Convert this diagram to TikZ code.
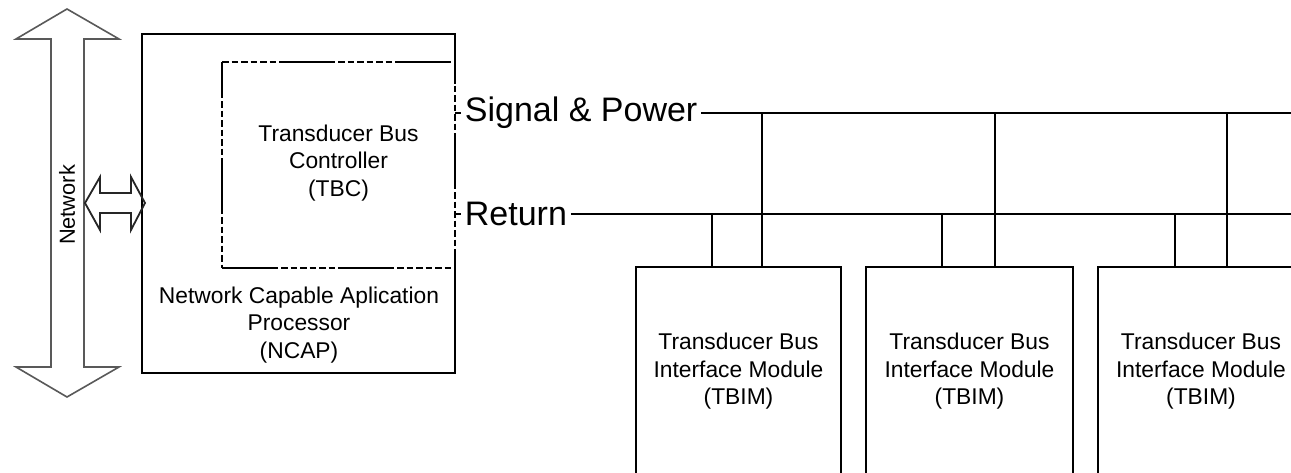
\documentclass[tikz,border=0pt]{standalone}
\usepackage{fontspec}
\setmainfont{Liberation Sans}
\begin{document}
\begin{tikzpicture}[x=1pt,y=-1pt,line width=1.8pt,
  txt/.style={inner sep=0pt,align=center,font=\fontsize{22.8}{27.5}\selectfont},
  bigtxt/.style={inner xsep=3pt,inner ysep=0pt,font=\fontsize{34}{40}\selectfont},
  area/.style={inner sep=0pt,draw=none},
  tbimbox/.style={draw=black,inner sep=0pt,align=center,minimum height=209pt,
     font=\fontsize{22.8}{27.5}\selectfont},
  tbcdash/.style={dash pattern=on 56pt off 3pt on 6.5pt off 3pt on 6.5pt off 3pt on 6.5pt off 3pt on 6.5pt off 3pt on 6.5pt off 3pt on 6.5pt off 3pt},
  netarrow/.style={draw=black!65,line width=1.6pt,line join=miter},
  busline/.style={draw=black,line width=1.8pt}]
\useasboundingbox (0,0) rectangle (1291,473);
\clip (0,0) rectangle (1291,473);
\fill[white] (0,0) rectangle (1291,473);

% Network arrow
\draw[netarrow] (67,9) -- (119,39) -- (84,39) -- (84,367) -- (119,367) -- (67,397)
  -- (16,367) -- (51,367) -- (51,39) -- (16,39) -- cycle;
\node[txt,rotate=90,font=\fontsize{21.8}{26}\selectfont] (netlbl) at (67,205) {Network};

% NCAP
\node[area,minimum width=311pt,minimum height=337pt] (ncap) at (298.5,203.5) {};
\draw (ncap.north east) ++(0,50) coordinate (ncapA);
\draw (ncap.south east) ++(0,-107) coordinate (ncapB);
\draw (ncapA) -- (ncap.north east) -- (ncap.north west) -- (ncap.south west)
  -- (ncap.south east) -- (ncapB);
\node[txt] (ncaplbl) at (299,325) {Network Capable Aplication\\Processor\\(NCAP)};

% small double arrow
\draw[line width=1.8pt,black!85,line join=miter] (85,203) -- (100,177) -- (100,193) -- (131,193) -- (131,177)
  -- (145,203) -- (131,230) -- (131,213) -- (100,213) -- (100,230) -- cycle;

% TBC
\node[area,minimum width=231pt,minimum height=204pt] (tbc) at (338.5,165) {};
\draw[tbcdash,dash phase=59pt] (tbc.north west) -- (tbc.north east);
\draw[tbcdash] (tbc.south west) -- (tbc.south east);
\draw[tbcdash,dash phase=20pt] (tbc.north west) -- (tbc.south west);
\draw[tbcdash,dash phase=45pt] (tbc.north east) -- (tbc.south east);
\node[txt] (tbclbl) at (338.5,163) {Transducer Bus\\Controller\\(TBC)};

% bus labels
\node[bigtxt,anchor=west] (sp) at (461,113) {Signal \& Power};
\node[bigtxt,anchor=west] (ret) at (461,214) {Return};
\coordinate (spEnd) at (1300,113);
\coordinate (retEnd) at (1300,214);
\draw[busline] (ncap.east |- sp.west) -- (sp.west);
\draw[busline] (ncap.east |- ret.west) -- (ret.west);
\draw[busline] (sp.east) -- (spEnd);
\draw[busline] (ret.east) -- (retEnd);

% TBIMs
\node[tbimbox,minimum width=205pt] (tbimA) at (738.5,371.5) {Transducer Bus\\Interface Module\\(TBIM)};
\node[tbimbox,minimum width=207pt] (tbimB) at (969.5,371.5) {Transducer Bus\\Interface Module\\(TBIM)};
\node[tbimbox,minimum width=206pt] (tbimC) at (1201,371.5) {Transducer Bus\\Interface Module\\(TBIM)};

\coordinate (aR) at ([xshift=77pt]tbimA.north west);
\coordinate (aS) at ([xshift=127pt]tbimA.north west);
\coordinate (bR) at ([xshift=77pt]tbimB.north west);
\coordinate (bS) at ([xshift=130pt]tbimB.north west);
\coordinate (cR) at ([xshift=78pt]tbimC.north west);
\coordinate (cS) at ([xshift=130pt]tbimC.north west);
\foreach \p in {aR,bR,cR} \draw[busline] (\p) -- (\p |- ret.east);
\foreach \p in {aS,bS,cS} \draw[busline] (\p) -- (\p |- sp.east);
\end{tikzpicture}
\end{document}
